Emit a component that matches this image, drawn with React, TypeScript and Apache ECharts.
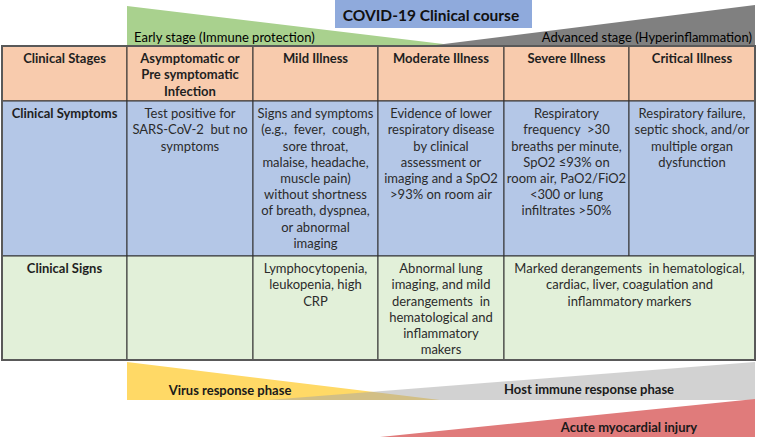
import React, { useEffect, useRef } from "react";
import * as echarts from "echarts";

const title = "COVID-19 Clinical course";
const topPhases = ["Early stage (Immune protection)", "Advanced stage (Hyperinflammation)"];
const bottomPhases = ["Virus response phase", "Host immune response phase", "Acute myocardial injury"];

const stages = [
  "Clinical Stages",
  "Asymptomatic or\nPre symptomatic\nInfection",
  "Mild Illness",
  "Moderate Illness",
  "Severe Illness",
  "Critical Illness",
];
const symptoms = [
  "Clinical Symptoms",
  "Test positive for\nSARS-CoV-2  but no\nsymptoms",
  "Signs and symptoms\n(e.g.,  fever,  cough,\nsore throat,\nmalaise, headache,\nmuscle pain)\nwithout shortness\nof breath, dyspnea,\nor abnormal\nimaging",
  "Evidence of lower\nrespiratory disease\nby clinical\nassessment or\nimaging and a SpO2\n>93% on room air",
  "Respiratory\nfrequency  >30\nbreaths per minute,\nSpO2 ≤93% on\nroom air, PaO2/FiO2\n<300 or lung\ninfiltrates >50%",
  "Respiratory failure,\nseptic shock, and/or\nmultiple organ\ndysfunction",
];
const signs = [
  "Clinical Signs",
  "",
  "Lymphocytopenia,\nleukopenia, high\nCRP",
  "Abnormal lung\nimaging, and mild\nderangements  in\nhematological and\ninflammatory\nmakers",
  "Marked derangements  in hematological,\ncardiac, liver, coagulation and\ninflammatory markers",
];
const signSpans = [1, 1, 1, 1, 2];

const colX = [2, 127, 253, 378, 504, 629, 755];
const rowY = [46, 101, 256, 360];
const rowFill = ["#f8cbad", "#b4c7e7", "#e2f0d9"];

const FONT = "Lato, 'Open Sans', sans-serif";

export default function App() {
  const ref = useRef<HTMLDivElement>(null);
  useEffect(() => {
    if (!ref.current) return;
    const chart = echarts.init(ref.current, null, { renderer: "svg" });
    const g: any[] = [];

    // top phase triangles
    g.push({ type: "polygon", shape: { points: [[127, 6], [460, 46], [127, 46]] }, style: { fill: "#a9d18e" } });
    g.push({ type: "polygon", shape: { points: [[428, 46], [755, 5], [755, 46]] }, style: { fill: "#808080" } });
    // title box
    g.push({ type: "rect", shape: { x: 335, y: 0, width: 197, height: 28 }, style: { fill: "#8faadc" } });
    g.push({
      type: "text",
      style: { text: title, x: 431, y: 15, align: "center", verticalAlign: "middle", fontFamily: FONT, fontSize: 15.5, fontWeight: "bold", fill: "#111" },
    });
    g.push({
      type: "text",
      style: { text: topPhases[0], x: 134, y: 37, align: "left", verticalAlign: "middle", fontFamily: FONT, fontSize: 13, fill: "#000" },
    });
    g.push({
      type: "text",
      style: { text: topPhases[1], x: 752, y: 37, align: "right", verticalAlign: "middle", fontFamily: FONT, fontSize: 13, fill: "#000" },
    });

    // table
    const rows = [
      { texts: stages, spans: stages.map(() => 1), bold: true },
      { texts: symptoms, spans: symptoms.map(() => 1), bold: false },
      { texts: signs, spans: signSpans, bold: false },
    ];
    rows.forEach((row, ri) => {
      let c = 0;
      row.texts.forEach((t, i) => {
        const span = row.spans[i];
        const x0 = colX[c];
        const x1 = colX[c + span];
        const y0 = rowY[ri];
        const y1 = rowY[ri + 1];
        g.push({
          type: "rect",
          shape: { x: x0, y: y0, width: x1 - x0, height: y1 - y0 },
          style: { fill: rowFill[ri], stroke: "#303030", lineWidth: 1 },
        });
        if (t) {
          g.push({
            type: "text",
            style: {
              text: t,
              x: (x0 + x1) / 2,
              y: y0 + 4,
              align: "center",
              verticalAlign: "top",
              fontFamily: FONT,
              fontSize: 13,
              lineHeight: 16.2,
              fontWeight: row.bold || i === 0 ? "bold" : "normal",
              fill: row.bold || i === 0 ? "#1f1f1f" : "#2b2b2b",
            },
          });
        }
        c += span;
      });
    });
    g.push({
      type: "rect",
      shape: { x: colX[0], y: rowY[0], width: colX[6] - colX[0], height: rowY[3] - rowY[0] },
      style: { fill: "none", stroke: "#595959", lineWidth: 2 },
    });

    // bottom phase triangles
    g.push({ type: "polygon", shape: { points: [[127, 362], [440, 400], [127, 400]] }, style: { fill: "#ffd966" } });
    g.push({ type: "polygon", shape: { points: [[268, 400], [755, 362], [755, 400]] }, style: { fill: "rgba(166,166,166,0.5)" } });
    g.push({ type: "polygon", shape: { points: [[380, 437], [755, 399], [755, 437]] }, style: { fill: "#e07b7b" } });
    g.push({
      type: "text",
      style: { text: bottomPhases[0], x: 230, y: 390, align: "center", verticalAlign: "middle", fontFamily: FONT, fontSize: 13, fontWeight: "bold", fill: "#1a1a1a" },
    });
    g.push({
      type: "text",
      style: { text: bottomPhases[1], x: 589, y: 389, align: "center", verticalAlign: "middle", fontFamily: FONT, fontSize: 13, fontWeight: "bold", fill: "#1a1a1a" },
    });
    g.push({
      type: "text",
      style: { text: bottomPhases[2], x: 629, y: 427, align: "center", verticalAlign: "middle", fontFamily: FONT, fontSize: 13, fontWeight: "bold", fill: "#1a1a1a" },
    });

    chart.setOption({ animation: false, backgroundColor: "#ffffff", graphic: g });
    return () => chart.dispose();
  }, []);
  return <div ref={ref} style={{ position: "fixed", left: 0, top: 0, width: 758, height: 438 }} />;
}
